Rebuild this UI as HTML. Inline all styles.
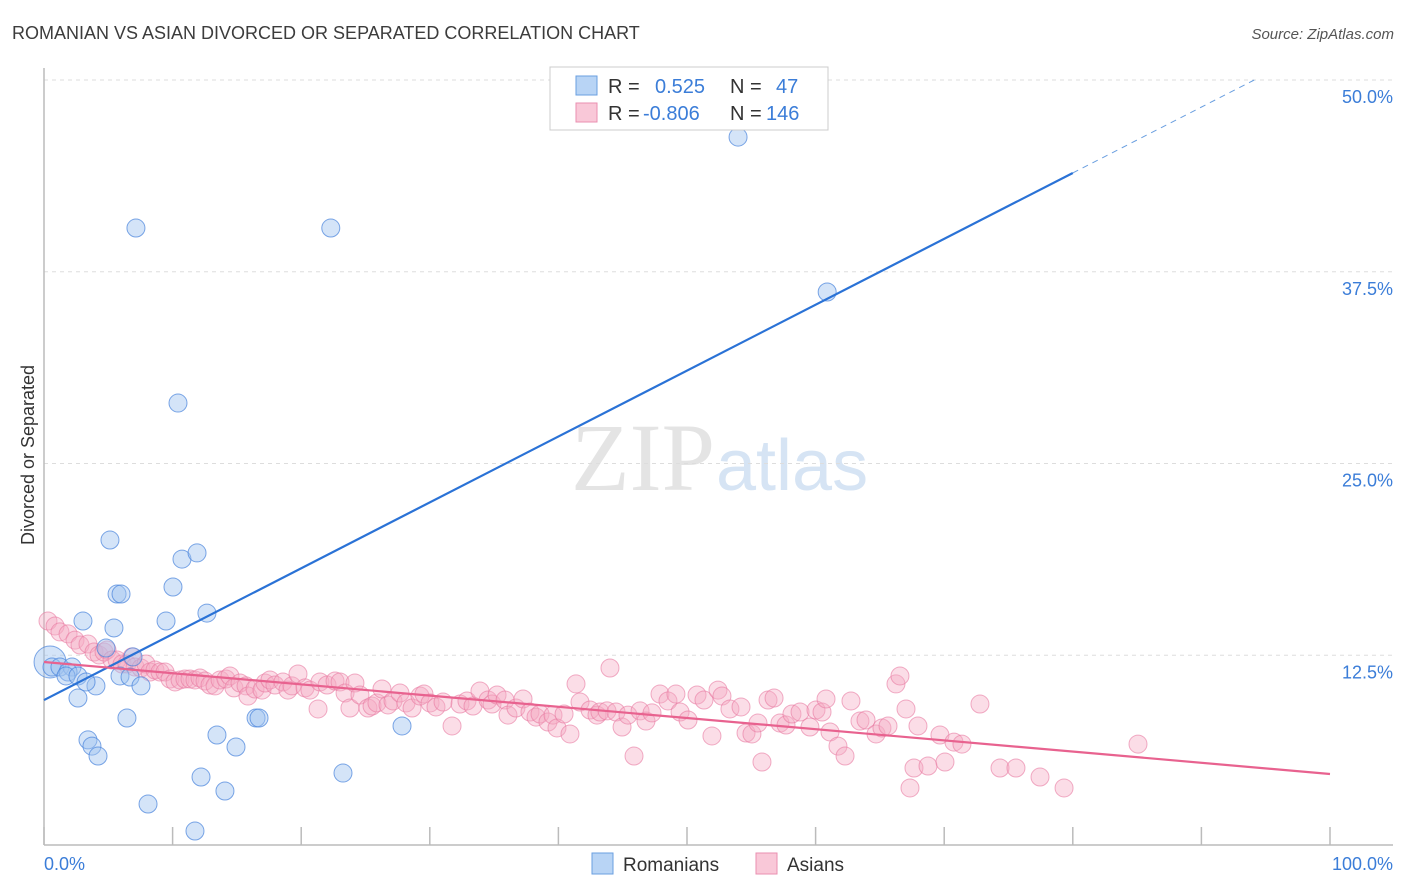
<!DOCTYPE html>
<html><head><meta charset="utf-8"><style>
body{margin:0;background:#fff;font-family:"Liberation Sans",sans-serif;}
svg{display:block}
</style></head><body>
<svg id="chart" width="1406" height="892" font-family="Liberation Sans, sans-serif">
<text x="12" y="39" font-size="18" fill="#3c3c3c">ROMANIAN VS ASIAN DIVORCED OR SEPARATED CORRELATION CHART</text>
<text x="1394" y="39" font-size="15" fill="#555" font-style="italic" text-anchor="end">Source: ZipAtlas.com</text>
<text x="715" y="490" font-size="96" fill="#e4e4e4" text-anchor="end" font-family="Liberation Serif, serif">ZIP</text>
<text x="716" y="490" font-size="72" fill="#d6e4f4">atlas</text>
<text transform="translate(34,455) rotate(-90)" font-size="18" fill="#333" text-anchor="middle">Divorced or Separated</text>
<g id="grid"></g><g id="axes"></g><g id="pts"></g><g id="lines"></g>
<g>
<rect x="550" y="67" width="278" height="63" fill="#fff" stroke="#ccc"/>
<rect x="576" y="76" width="21" height="19" fill="#b8d4f5" stroke="#6a9fe0"/>
<rect x="576" y="103" width="21" height="19" fill="#f9c8d8" stroke="#ea8fb0"/>
<text x="608" y="93" font-size="20" fill="#333">R = <tspan fill="#3b7dd8" x="655">0.525</tspan><tspan fill="#333" x="730">N = </tspan><tspan fill="#3b7dd8" x="776">47</tspan></text>
<text x="608" y="120" font-size="20" fill="#333">R = <tspan fill="#3b7dd8" x="643">-0.806</tspan><tspan fill="#333" x="730">N = </tspan><tspan fill="#3b7dd8" x="766">146</tspan></text>
</g>
<g>
<rect x="592" y="853" width="21" height="21" fill="#b8d4f5" stroke="#6a9fe0"/>
<text x="623" y="871" font-size="19" fill="#333">Romanians</text>
<rect x="756" y="853" width="21" height="21" fill="#f9c8d8" stroke="#ea8fb0"/>
<text x="787" y="871" font-size="19" fill="#333">Asians</text>
</g>
</svg>
<script>
const yTicks=[12.5,25,37.5,50];
const yTickLabels=["12.5%","25.0%","37.5%","50.0%"];
const xTicks=[0,10,20,30,40,50,60,70,80,90,100];
const xEndLabels=["0.0%","100.0%"];
const blueX=[7.15,22.3,53.97,60.9,10.42,5.13,10.73,11.9,10.03,5.68,5.99,3.03,9.49,12.67,5.44,4.82,6.92,0.47,0.62,1.24,2.18,1.87,1.71,2.64,4.04,3.27,5.91,6.69,7.54,2.64,6.45,16.49,16.72,27.84,3.42,3.73,4.2,13.45,14.93,12.21,14.07,23.25,8.09,11.74];
const blueY=[40.35,40.35,46.28,36.18,28.94,20.01,18.77,19.17,16.95,16.49,16.49,14.73,14.73,15.25,14.28,12.97,12.39,12.06,11.73,11.73,11.73,11.41,11.15,11.15,10.5,10.76,11.15,11.08,10.5,9.71,8.41,8.41,8.41,7.89,6.98,6.58,5.93,7.3,6.52,4.56,3.65,4.82,2.8,1.04];
const pinkPx=[[48,621],[55,626],[60,632],[68,634],[75,640],[80,645],[88,644],[94,652],[99,655],[104,652],[107,650],[112,660],[117,660],[122,664],[127,664],[132,657],[135,667],[141,668],[146,664],[150,672],[155,670],[160,672],[165,672],[170,679],[175,682],[180,680],[185,679],[190,679],[195,680],[200,678],[205,681],[210,685],[215,686],[220,680],[226,679],[230,676],[234,688],[240,683],[246,686],[248,696],[255,689],[262,690],[265,683],[270,680],[275,685],[283,682],[288,690],[292,686],[298,674],[305,688],[310,690],[318,709],[320,682],[327,685],[335,681],[340,682],[345,693],[350,708],[355,683],[360,695],[368,708],[372,706],[377,703],[382,689],[388,705],[393,701],[400,693],[406,703],[412,708],[420,696],[424,694],[430,703],[436,707],[443,702],[452,726],[460,704],[467,701],[473,706],[480,691],[488,700],[492,704],[497,695],[505,700],[508,715],[516,708],[523,699],[530,712],[536,717],[540,714],[548,722],[553,715],[557,728],[564,714],[570,734],[576,684],[580,702],[590,710],[597,715],[600,712],[607,711],[610,668],[616,712],[622,727],[628,715],[634,756],[640,711],[646,721],[652,713],[660,694],[668,701],[676,694],[680,712],[688,720],[697,695],[704,700],[712,736],[718,690],[722,696],[730,709],[741,707],[746,733],[752,734],[758,723],[762,762],[768,700],[774,698],[780,723],[786,725],[792,714],[800,712],[810,727],[816,710],[822,712],[826,699],[830,732],[838,746],[845,756],[851,701],[860,721],[866,720],[876,734],[882,728],[888,726],[896,684],[900,676],[906,709],[910,788],[914,768],[918,726],[928,766],[940,735],[945,762],[954,742],[962,744],[980,704],[1000,768],[1016,768],[1040,777],[1064,788],[1138,744]];
const pinkX=pinkPx.map(p=>+((p[0]-44)/12.86).toFixed(2));
const pinkY=pinkPx.map(p=>+((847-p[1])/15.34).toFixed(2));
const blueTrend=[9.58,0.4295];
const pinkTrend=[12.06,-0.073];

const X0=44,X1=1330,YB=847,YT=80;
const sx=v=>X0+v*(X1-X0)/100;
const sy=v=>YB-v*(YB-YT)/50;
const NS='http://www.w3.org/2000/svg';
function mk(tag,attrs,parent){const e=document.createElementNS(NS,tag);for(const k in attrs)e.setAttribute(k,attrs[k]);document.getElementById(parent).appendChild(e);return e;}
yTicks.forEach((t,i)=>{
 const g=mk('line',{x1:44,x2:1393,y1:sy(t),y2:sy(t),stroke:'#ddd','stroke-dasharray':'4,4'},'grid');
 
 
 const l=mk('text',{x:1393,y:sy(t)+23,'font-size':18,fill:'#3b7dd8','text-anchor':'end'},'grid');
 l.textContent=yTickLabels[i];
 
 
});
const ax=mk('line',{x1:44,x2:44,y1:68,y2:845,stroke:'#bbb','stroke-width':1.5},'axes');


const bx=mk('line',{x1:44,x2:1393,y1:845,y2:845,stroke:'#bbb','stroke-width':1.5},'axes');


xTicks.forEach(t=>{
 const k=mk('line',{x1:sx(t),x2:sx(t),y1:827,y2:845,stroke:'#bbb','stroke-width':1.5},'axes');
 
 
});
[[0,'start'],[100,'end']].forEach((a,i)=>{
 const l=mk('text',{x:i?1393:44,y:870,'font-size':18,fill:'#3b7dd8','text-anchor':a[1]},'axes');
 l.textContent=xEndLabels[i];
 
 
});
pinkX.forEach((x,i)=>{
 const c=mk('circle',{cx:sx(x),cy:sy(pinkY[i]),r:9,fill:'rgba(246,170,196,0.4)',stroke:'rgba(232,120,160,0.6)','stroke-width':1},'pts');
 
 
});
blueX.forEach((x,i)=>{
 const big=(i===17);
 const c=mk('circle',{cx:sx(x),cy:sy(blueY[i]),r:big?16:9,fill:'rgba(160,196,240,0.45)',stroke:'rgba(70,130,220,0.7)','stroke-width':1},'pts');
 
 
});
const bxEnd=80, bxMax=(50-blueTrend[0])/blueTrend[1];
const bl=mk('line',{x1:sx(0),y1:sy(blueTrend[0]),x2:sx(bxEnd),y2:sy(blueTrend[0]+blueTrend[1]*bxEnd),stroke:'#2a72d6','stroke-width':2.2},'lines');


const bd=mk('line',{x1:sx(bxEnd),y1:sy(blueTrend[0]+blueTrend[1]*bxEnd),x2:sx(bxMax),y2:sy(50),stroke:'#6a9fe0','stroke-width':1,'stroke-dasharray':'6,5'},'lines');


const pl=mk('line',{x1:sx(0),y1:sy(pinkTrend[0]),x2:sx(100),y2:sy(pinkTrend[0]+pinkTrend[1]*100),stroke:'#e8628f','stroke-width':2.2},'lines');


</script>
</body></html>
